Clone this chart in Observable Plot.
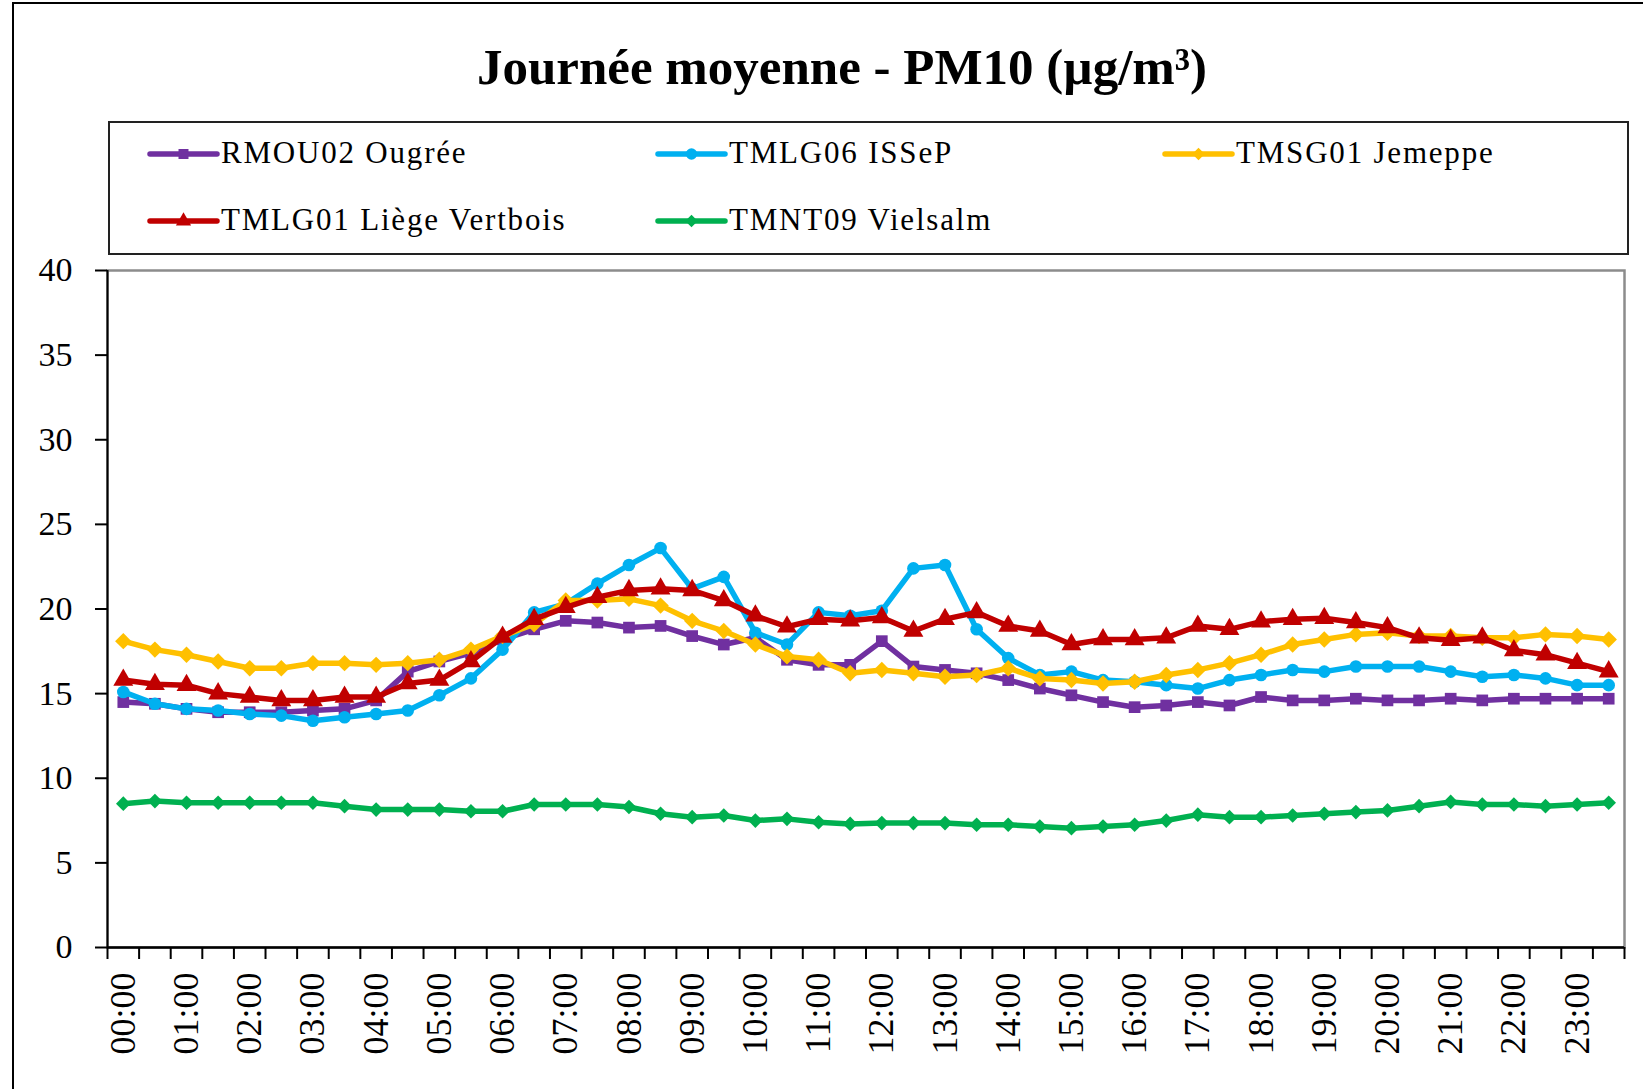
<!DOCTYPE html>
<html><head><meta charset="utf-8">
<script src="https://cdn.jsdelivr.net/npm/d3@7"></script>
<script src="https://cdn.jsdelivr.net/npm/@observablehq/plot@0.6"></script>
<style>
body{margin:0;background:#fff;width:1643px;height:1089px;overflow:hidden;position:relative;font-family:"Liberation Serif","Times New Roman",serif;}
#frame{position:absolute;left:12px;top:2px;width:1700px;height:1200px;border-left:2px solid #000;border-top:2px solid #000;}
#title{position:absolute;left:842px;top:42px;transform:translateX(-50%);font-size:51px;line-height:50px;font-weight:bold;white-space:nowrap;color:#000;}
#legendbox{position:absolute;left:108px;top:121px;width:1517px;height:130px;border:2px solid #222;}
#legend{position:absolute;left:0;top:0;}
#chart{position:absolute;left:0;top:250px;}
</style>
</head><body>
<div id="frame"></div>
<div id="title">Journée moyenne - PM10 (µg/m³)</div>
<div id="legendbox"></div>
<svg id="legend" width="1643" height="260"></svg>
<div id="chart"></div>
<script>
const times = ["00:00","00:30","01:00","01:30","02:00","02:30","03:00","03:30","04:00","04:30","05:00","05:30",
"06:00","06:30","07:00","07:30","08:00","08:30","09:00","09:30","10:00","10:30","11:00","11:30",
"12:00","12:30","13:00","13:30","14:00","14:30","15:00","15:30","16:00","16:30","17:00","17:30",
"18:00","18:30","19:00","19:30","20:00","20:30","21:00","21:30","22:00","22:30","23:00","23:30"];

const seriesNames = ["RMOU02 Ougrée","TMLG06 ISSeP","TMSG01 Jemeppe","TMLG01 Liège Vertbois","TMNT09 Vielsalm"];
const seriesColors = ["#7030A0","#00B0F0","#FFC000","#C00000","#00B050"];
const seriesSymbols = ["square","circle","diamond2","triangle","diamond2"];

const rmou02 = [14.5,14.4,14.1,13.9,13.9,13.9,14.0,14.1,14.6,16.3,16.9,17.4,
18.2,18.8,19.3,19.2,18.9,19.0,18.4,17.9,18.3,17.0,16.7,16.7,
18.1,16.6,16.4,16.2,15.8,15.3,14.9,14.5,14.2,14.3,14.5,14.3,
14.8,14.6,14.6,14.7,14.6,14.6,14.7,14.6,14.7,14.7,14.7,14.7];
const tmlg06 = [15.1,14.4,14.1,14.0,13.8,13.7,13.4,13.6,13.8,14.0,14.9,15.9,
17.6,19.8,20.3,21.5,22.6,23.6,21.2,21.9,18.6,17.9,19.8,19.6,
19.9,22.4,22.6,18.8,17.1,16.1,16.3,15.8,15.7,15.5,15.3,15.8,
16.1,16.4,16.3,16.6,16.6,16.6,16.3,16.0,16.1,15.9,15.5,15.5];
const tmsg01 = [18.1,17.6,17.3,16.9,16.5,16.5,16.8,16.8,16.7,16.8,17.0,17.6,
18.4,19.1,20.5,20.5,20.6,20.2,19.3,18.7,17.9,17.2,17.0,16.2,
16.4,16.2,16.0,16.1,16.5,15.9,15.8,15.6,15.7,16.1,16.4,16.8,
17.3,17.9,18.2,18.5,18.6,18.4,18.4,18.3,18.3,18.5,18.4,18.2];
const tmlg01 = [15.8,15.55,15.5,15.0,14.8,14.6,14.6,14.8,14.8,15.6,15.8,16.9,
18.35,19.4,20.1,20.7,21.1,21.2,21.1,20.5,19.6,18.95,19.4,19.3,
19.5,18.7,19.4,19.8,19.0,18.7,17.9,18.2,18.2,18.3,19.0,18.8,
19.25,19.4,19.45,19.2,18.9,18.3,18.15,18.3,17.55,17.3,16.8,16.3];
const tmnt09 = [8.5,8.65,8.55,8.55,8.55,8.55,8.55,8.35,8.15,8.15,8.15,8.05,
8.05,8.45,8.45,8.45,8.3,7.9,7.7,7.8,7.5,7.6,7.4,7.3,
7.35,7.35,7.35,7.25,7.25,7.15,7.05,7.15,7.25,7.5,7.85,7.7,
7.7,7.8,7.9,8.0,8.1,8.35,8.6,8.45,8.45,8.35,8.45,8.55];

const yTicks = [0,5,10,15,20,25,30,35,40];

const seriesValues = [rmou02, tmlg06, tmsg01, tmlg01, tmnt09];
const dotR = [6.6, 6.3, 7.4, 7.4, 6.6];
const FONT = '"Liberation Serif","Times New Roman",serif';

const marks = [];
marks.push(Plot.frame({stroke:"#8c8c8c", strokeWidth:2.5}));
seriesValues.forEach((vals, s) => {
  const data = vals.map((v, i) => ({i, v}));
  marks.push(Plot.line(data, {x:"i", y:"v", stroke: seriesColors[s], strokeWidth:5.5, strokeLinejoin:"round"}));
  marks.push(Plot.dot(data, {x:"i", y:"v", symbol: seriesSymbols[s], r: dotR[s], fill: seriesColors[s], stroke:"none"}));
});
const boundaries = times.map((t, i) => i - 0.5).concat([times.length - 0.5]);
const hourIdx = times.map((t, i) => i).filter(i => times[i].endsWith(":00"));
marks.push(Plot.ruleX([-0.5], {stroke:"#000", strokeWidth:2}));
marks.push(Plot.ruleY([0], {stroke:"#000", strokeWidth:2.5}));
marks.push(Plot.axisX(boundaries, {tickSize:12, tickFormat: () => "", stroke:"#000", strokeWidth:2, label:null}));
marks.push(Plot.axisX(hourIdx, {tickSize:0, tickPadding:25, tickRotate:-90, tickFormat: i => times[i], fontSize:36, fill:"#000", label:null}));
marks.push(Plot.axisY(yTicks, {tickSize:12, tickPadding:23, fontSize:34, stroke:"#000", strokeWidth:2, fill:"#000", label:null}));

const chart = Plot.plot({
  width: 1643, height: 839,
  marginLeft: 107, marginRight: 19, marginTop: 20, marginBottom: 142,
  x: {type:"linear", domain:[-0.5, times.length - 0.5], label:null},
  y: {domain:[0, 40], label:null},
  style: {fontFamily: FONT, color:"#000", background:"transparent", overflow:"visible"},
  marks
});
document.getElementById("chart").appendChild(chart);

// Legend
const lg = d3.select("#legend");
const legendPos = [[150,163],[658,163],[1165,163],[150,230],[658,230]];
const symMap = {square:d3.symbolSquare, circle:d3.symbolCircle, diamond2:d3.symbolDiamond2, triangle:d3.symbolTriangle};
seriesNames.forEach((name, s) => {
  const [x, y] = legendPos[s];
  const cy = y - 9;
  lg.append("line").attr("x1", x).attr("x2", x + 67).attr("y1", cy).attr("y2", cy)
    .attr("stroke", seriesColors[s]).attr("stroke-width", 5.5).attr("stroke-linecap","round");
  lg.append("path").attr("d", d3.symbol(symMap[seriesSymbols[s]], 100)())
    .attr("transform", `translate(${x + 33.5},${cy})`).attr("fill", seriesColors[s]);
  lg.append("text").attr("x", x + 71).attr("y", y).text(name)
    .attr("font-family", FONT).attr("font-size", 31).attr("letter-spacing", "1.8px").attr("fill","#000");
});
</script>
</body></html>
